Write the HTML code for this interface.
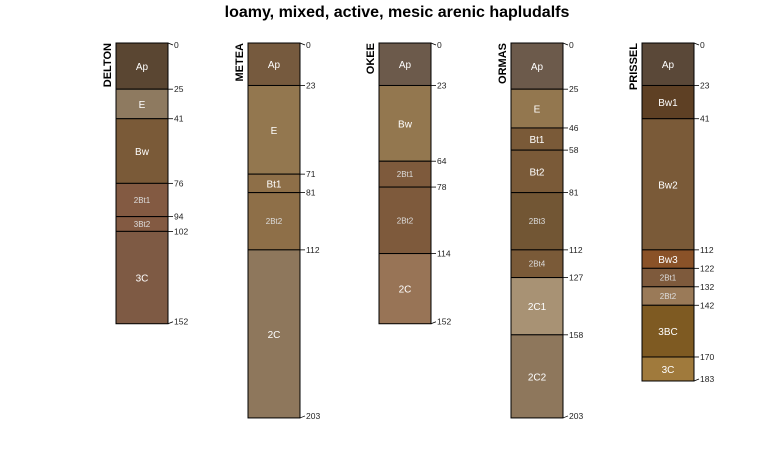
<!DOCTYPE html>
<html><head><meta charset="utf-8"><style>
body{margin:0;background:#fff}
svg{display:block;font-family:"Liberation Sans",sans-serif}
</style></head><body>
<svg id="chart" width="775" height="450" viewBox="0 0 775 450">
<text x="397" y="17" text-anchor="middle" font-size="16" font-weight="bold">loamy, mixed, active, mesic arenic hapludalfs</text>
</svg>
<script>
const profileNames = ["DELTON","METEA","OKEE","ORMAS","PRISSEL"];
const horizonNames = [
 ["Ap","E","Bw","2Bt1","3Bt2","3C"],
 ["Ap","E","Bt1","2Bt2","2C"],
 ["Ap","Bw","2Bt1","2Bt2","2C"],
 ["Ap","E","Bt1","Bt2","2Bt3","2Bt4","2C1","2C2"],
 ["Ap","Bw1","Bw2","Bw3","2Bt1","2Bt2","3BC","3C"]
];
const horizonBottoms = [
 [25,41,76,94,102,152],
 [23,71,81,112,203],
 [23,64,78,114,152],
 [25,46,58,81,112,127,158,203],
 [23,41,112,122,132,142,170,183]
];
const horizonColors = [
 ["#5a4632","#8e7a60","#7a5a38","#835a42","#835a42","#7e5a44"],
 ["#765a3e","#93774f","#8e6f48","#8e6f48","#8e775c"],
 ["#6c5a4b","#93774f","#7e5a3c","#7e5a3c","#987456"],
 ["#6c5a4b","#93774f","#7a5a38","#7a5a38","#725634","#7a5a38","#a89274","#8e775c"],
 ["#5a4838","#5e4024","#7a5a38","#8a5228","#7e5a3c","#9a7a58","#7e5a22","#a07a3c"]
];
const svg = document.getElementById('chart');
const NS = "http://www.w3.org/2000/svg";
const top0 = 43, scale = 1.847, W = 52;
const xStart = 116, xStep = 131.5;
function yPos(d){ return top0 + d*scale; }
function xPos(i){ return Math.round(xStart + i*xStep); }
function mk(tag, attrs){ const e=document.createElementNS(NS,tag); for(const k in attrs) e.setAttribute(k,attrs[k]); svg.appendChild(e); return e; }
profileNames.forEach((name,i)=>{
  const x = xPos(i);
  const t = mk('text',{x:x-5,y:yPos(0),'font-size':11,'font-weight':'bold','text-anchor':'end',transform:`rotate(-90 ${x-5} ${yPos(0)})`});
  
  
  t.textContent = name;
  let prev = 0;
  horizonBottoms[i].forEach((b,j)=>{
    const r = mk('rect',{x:x,y:yPos(prev),width:W,height:yPos(b)-yPos(prev),fill:horizonColors[i][j],stroke:'#000','stroke-width':1});
    
    
    const small = /^\d+Bt/.test(horizonNames[i][j]);
    const lt = mk('text',{x:x+W/2,y:(yPos(prev)+yPos(b))/2+(small?3:4),'text-anchor':'middle','font-size':small?8:10,fill:small?'#ddd':'#fff'});
    
    
    lt.textContent = horizonNames[i][j];
    prev = b;
  });
  const depths = [0].concat(horizonBottoms[i]);
  depths.forEach((d,k)=>{
    const y = yPos(d);
    const ly = k===0 ? y+2 : (k===depths.length-1 ? y-2 : y);
    const tk = mk('line',{x1:x+W,y1:y,x2:x+W+5,y2:ly,stroke:'#000','stroke-width':0.8});
    
    
    const dt = mk('text',{x:x+W+6,y:ly+3,'font-size':8.5,fill:'#222'});
    
    
    dt.textContent = d;
  });
});
</script>
</body></html>
